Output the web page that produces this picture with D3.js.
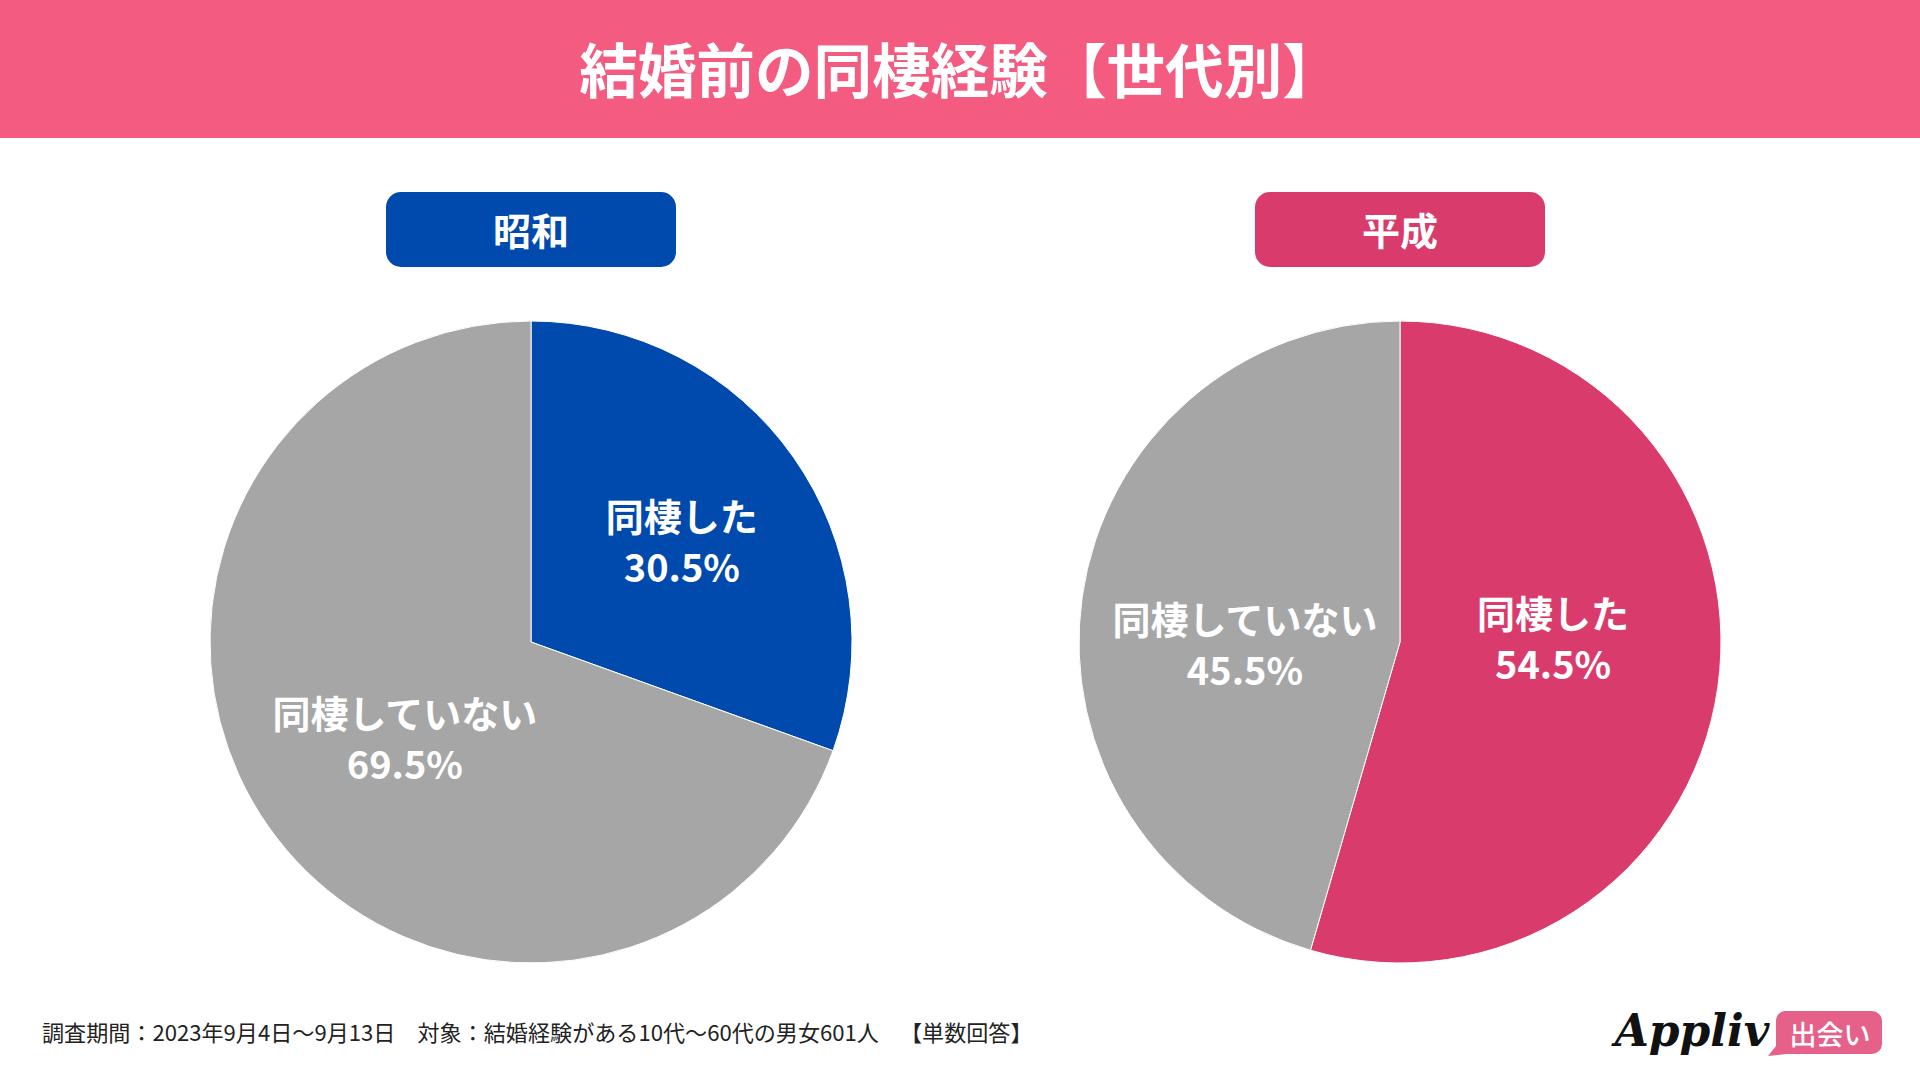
<!DOCTYPE html>
<html><head><meta charset="utf-8">
<script src="https://cdn.jsdelivr.net/npm/d3@7"></script>
<style>
html,body{margin:0;padding:0;background:#fff;}
svg{display:block;}
</style></head>
<body>
<script>
const title = "結婚前の同棲経験【世代別】";
const generations = ["昭和", "平成"];
const categories = ["同棲した", "同棲していない"];
const showaValues = [30.5, 69.5];
const heiseiValues = [54.5, 45.5];
const footnoteParts = ["調査期間：2023年9月4日〜9月13日　対象：結婚経験がある10代〜60代の男女601人　", "【単数回答】"];

// layout (label anchor offsets relative to pie centre, as fraction of radius)
const labelOffsets = [
  [[0.47, -0.318], [-0.393, 0.293]],
  [[0.477, -0.016], [-0.483, 0.0]]
];

const W = 1920, H = 1080;
const font = "'Noto Sans CJK JP','Noto Sans CJK SC',sans-serif";
const svg = d3.select("body").append("svg").attr("width", W).attr("height", H);

// header
svg.append("rect").attr("x",0).attr("y",0).attr("width",W).attr("height",138).attr("fill","#F45B80");
svg.append("text").attr("x",W/2).attr("y",67).attr("text-anchor","middle").attr("dominant-baseline","central")
  .attr("fill","#fff").attr("font-family",font).attr("font-weight",700).attr("font-size",58.6).text(title);

const panels = [
  {name: generations[0], values: showaValues, color: "#004AAD", cx: 531},
  {name: generations[1], values: heiseiValues, color: "#D93C6C", cx: 1400}
];
const cy = 642, R = 321;
const pie = d3.pie().sort(null).value(d => d.value);
const arc = d3.arc().innerRadius(0).outerRadius(R);

panels.forEach((p, pi) => {
  const g = svg.append("g");
  g.append("rect").attr("x", p.cx-145).attr("y",192).attr("width",290).attr("height",75).attr("rx",15)
    .attr("fill", p.color);
  g.append("text").attr("x", p.cx).attr("y", 228).attr("text-anchor","middle").attr("dominant-baseline","central")
    .attr("fill","#fff").attr("font-family",font).attr("font-weight",700).attr("font-size",38).text(p.name);

  const data = categories.map((c,i) => ({cat:c, value:p.values[i], color: i===0 ? p.color : "#A6A6A6"}));
  const arcs = pie(data);
  const pg = g.append("g").attr("transform",`translate(${p.cx},${cy})`);
  pg.selectAll("path").data(arcs).join("path").attr("d",arc).attr("fill",d=>d.data.color)
    .attr("stroke","#fff").attr("stroke-width",1);
  arcs.forEach((a, i) => {
    const x = labelOffsets[pi][i][0]*R, y = labelOffsets[pi][i][1]*R;
    const t = pg.append("text").attr("text-anchor","middle").attr("fill","#fff")
      .attr("font-family",font).attr("font-weight",700).attr("font-size",38);
    t.append("tspan").attr("x",x).attr("y",y-25).attr("dominant-baseline","central").text(a.data.cat);
    t.append("tspan").attr("x",x).attr("y",y+26).attr("dominant-baseline","central").text(a.data.value.toFixed(1)+"%");
  });
});

// footnote
const fn = svg.append("text").attr("x",42).attr("y",1031).attr("dominant-baseline","central")
  .attr("fill","#222").attr("font-family",font).attr("font-size",22.1);
fn.append("tspan").text(footnoteParts[0]);
fn.append("tspan").attr("dx",10).text(footnoteParts[1]);

// logo
const lg = svg.append("g");
lg.append("text").attr("x",1692).attr("y",1046).attr("text-anchor","middle")
  .attr("font-family","'DejaVu Serif',serif").attr("font-style","italic").attr("font-weight",700)
  .attr("font-size",44).attr("fill","#111").text("Appliv");
lg.append("path").attr("d","M1784,1011 H1872 a10,10 0 0 1 10,10 V1044 a10,10 0 0 1 -10,10 H1786 L1768,1056 L1776,1046 V1021 a10,10 0 0 1 8,-10 Z")
  .attr("fill","#E5618A");
lg.append("text").attr("x",1830).attr("y",1033).attr("text-anchor","middle").attr("dominant-baseline","central")
  .attr("font-family",font).attr("font-weight",500).attr("font-size",27).attr("fill","#fff").text("出会い");
</script>
</body></html>
